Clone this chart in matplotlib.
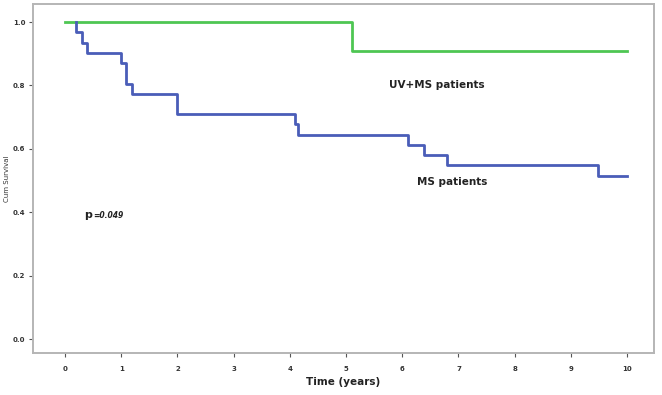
import matplotlib
matplotlib.use("Agg")
import matplotlib.pyplot as plt

# Data
uvms_times = [0.0, 5.10, 10.0]
uvms_surv = [1.0, 0.909, 0.909]

ms_times = [0.0, 0.19, 0.30, 0.39, 0.99, 1.09, 1.19, 2.0, 4.10, 4.14, 6.10, 6.38, 6.79, 9.49, 10.0]
ms_surv = [1.0, 0.967, 0.935, 0.903, 0.871, 0.806, 0.774, 0.710, 0.677, 0.645, 0.613, 0.581, 0.548, 0.516, 0.516]

ms_start = 0.19
xticks = list(range(0, 11))
yticks = [0.0, 0.2, 0.4, 0.6, 0.8, 1.0]
ytick_labels = ["0.0", "0.2", "0.4", "0.6", "0.8", "1.0"]

fig = plt.figure(figsize=(6.62, 3.95), dpi=100)
ax = fig.add_axes([0.0498, 0.106, 0.9382, 0.884])

ax.step(uvms_times, uvms_surv, where="post", color="#4ec653", lw=2.0)
ax.step([ms_start] + ms_times[1:], [1.0] + ms_surv[1:], where="post", color="#4a5db8", lw=2.0)

ax.set_xlim(-0.57, 10.48)
ax.set_ylim(-0.044, 1.057)
ax.set_xticks(xticks)
ax.set_xticklabels([str(t) for t in xticks], fontsize=5, fontweight="bold", color="#333333")
ax.set_yticks(yticks)
ax.set_yticklabels(ytick_labels, fontsize=5, fontweight="bold", color="#333333")
ax.tick_params(axis="x", length=3, width=0.8, color="#555555", pad=6)
ax.tick_params(axis="y", length=3, width=0.8, color="#555555", pad=2.5)

for s in ax.spines.values():
    s.set_color("#b5b5b5")
    s.set_linewidth(1.4)

ax.set_xlabel("Time (years)", fontsize=7.5, fontweight="bold", color="#222222", labelpad=4)
ax.set_ylabel("Cum Survival", fontsize=5, color="#333333", labelpad=2)

ax.text(6.62, 0.80, "UV+MS patients", fontsize=7.5, fontweight="bold", color="#222222",
        ha="center", va="center")
ax.text(6.88, 0.495, "MS patients", fontsize=7.5, fontweight="bold", color="#222222",
        ha="center", va="center")
ax.text(0.34, 0.39, "p", fontsize=8, fontweight="bold", color="#222222", ha="left", va="center")
ax.text(0.50, 0.39, "=0.049", fontsize=5.5, fontstyle="italic", fontweight="bold",
        color="#222222", ha="left", va="center")

fig.savefig("out.png", dpi=100)
